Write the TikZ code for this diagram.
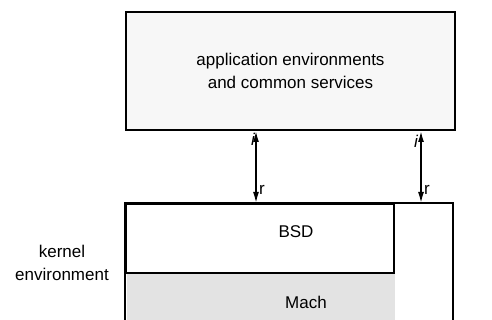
\documentclass[tikz,border=0pt]{standalone}
\usepackage{fontspec}
\setmainfont{Liberation Sans}
\usetikzlibrary{arrows.meta,patterns}
\begin{document}
\begin{tikzpicture}[x=1pt, y=-1pt, font=\fontsize{17}{23}\selectfont, >={Latex[length=11pt,width=6pt]},
      layerbox/.style={draw, line width=2pt, inner sep=0pt, anchor=north west},
      appbox/.style={layerbox, fill=gray!6, minimum width=329pt, minimum height=118pt, align=center},
      bsdbox/.style={layerbox, fill=white, minimum width=268pt, minimum height=69pt},
      machbox/.style={layerbox, draw=none, fill=gray!22, minimum width=268pt, minimum height=60pt},
      callarr/.style={<->, line width=1.6pt},
      calllbl/.style={font=\fontsize{17}{20}\selectfont}]
    \useasboundingbox (0,0) rectangle (492,320);
    \clip (0,0) rectangle (492,320);
    \node[appbox] (apps) at (125,11) {application environments\\and common services};
    \draw[line width=2pt] (125,340) -- (125,203) -- (453,203) -- (453,340);
    \coordinate (ktop) at (289,203);
    \node[machbox] (mach) at (126,272) {};
    \node[bsdbox]  (bsd)  at (125,203) {};
    \node at (306,302) {Mach};
    \node at (296,232) {BSD};
    \node[align=center] (kenv) at (62,263) {kernel\\environment};
    \draw[callarr] (apps.south -| 256,0) -- (ktop -| 256,0)
      node[pos=0.12, left=-3pt, calllbl] {\itshape i}
      node[pos=0.82, right=-1pt, calllbl] {r};
    \draw[callarr] (apps.south -| 421,0) -- (ktop -| 421,0)
      node[pos=0.15, left=-1pt, calllbl] {\itshape i}
      node[pos=0.82, right=-1pt, calllbl] {r};
  \end{tikzpicture}
\end{document}
